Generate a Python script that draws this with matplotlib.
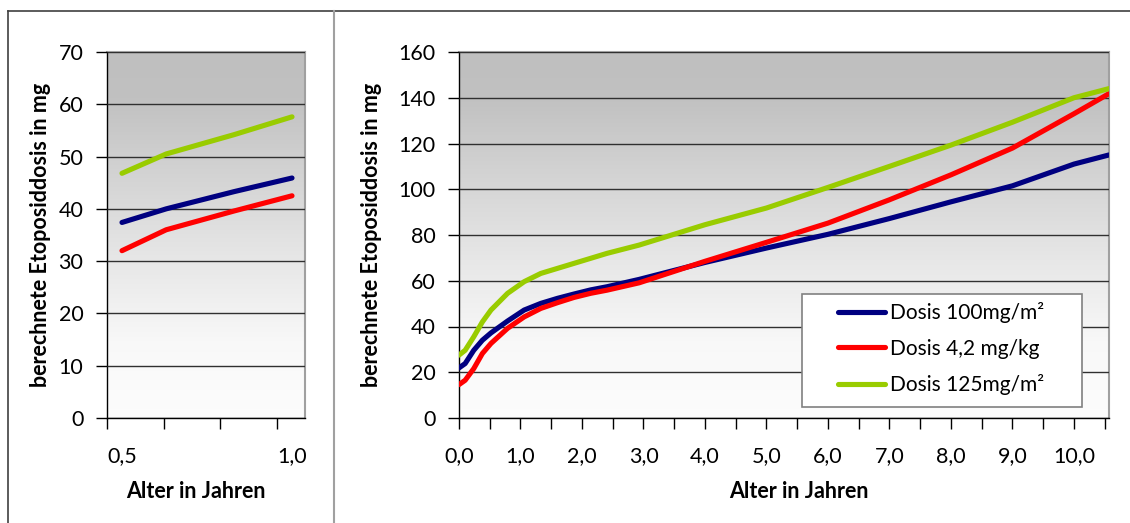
import numpy as np
import matplotlib
matplotlib.use("Agg")
import matplotlib.pyplot as plt
from matplotlib.lines import Line2D
from matplotlib.patches import Rectangle
from matplotlib.colors import LinearSegmentedColormap

plt.rcParams['font.family'] = ['Lato', 'DejaVu Sans']

# ---- data: left panel (infants) ----
ages_left = [0.5, 0.63, 0.83, 1.0]
blue_left = [37.4, 40.0, 43.3, 45.9]
red_left = [32.0, 36.0, 39.6, 42.5]
green_left = [46.8, 50.5, 54.2, 57.6]

# ---- data: right panel ----
ages_right = [0, 0.1, 0.24, 0.38, 0.52, 0.79, 1.06, 1.33, 1.6, 1.87, 2.14, 2.41,
              2.93, 4.0, 5.0, 6.0, 7.0, 8.0, 9.0, 10.0, 10.57]
blue_right = [21.9, 23.8, 29.6, 34.0, 37.2, 42.4, 47.2, 50.1, 52.3, 54.2, 56.0, 57.4,
              60.6, 68.0, 74.3, 80.3, 87.2, 94.5, 101.5, 111.0, 115.0]
red_right = [14.6, 16.5, 21.6, 28.2, 32.6, 39.2, 44.2, 47.9, 50.4, 52.7, 54.5, 55.9,
             59.1, 68.5, 76.8, 85.2, 95.4, 106.3, 118.0, 133.0, 141.8]
green_right = [27.5, 29.6, 35.5, 42.0, 47.2, 54.5, 59.6, 63.2, 65.4, 67.6, 69.8, 72.0,
               75.6, 84.5, 91.8, 100.8, 110.0, 119.3, 129.3, 140.0, 144.0]

series_names = ['Dosis 100mg/m²', 'Dosis 4,2 mg/kg', 'Dosis 125mg/m²']
series_colors = ['#000080', '#ff0000', '#99cc00']

left_xlabels = ['0,5', '1,0']
left_xlabel_pos = [0.5, 1.0]
right_xlabels = ['0,0', '1,0', '2,0', '3,0', '4,0', '5,0', '6,0', '7,0', '8,0', '9,0', '10,0']

W, H = 1130, 523
fig = plt.figure(figsize=(W / 100, H / 100), dpi=100)
fig.patch.set_facecolor('white')

def px_axes(x0, y0, x1, y1):
    return fig.add_axes([x0 / W, 1 - y1 / H, (x1 - x0) / W, (y1 - y0) / H])

AX1 = (107, 52, 305, 418)
AX2 = (459, 52, 1109, 418)
ax1 = px_axes(*AX1)
ax2 = px_axes(*AX2)

cmap = LinearSegmentedColormap.from_list(
    'bg', [(0.0, (0.99, 0.99, 0.99)), (0.2, (0.975, 0.975, 0.975)),
           (0.45, (0.90, 0.90, 0.90)), (0.75, (0.80, 0.80, 0.80)),
           (0.88, (0.755, 0.755, 0.755)), (1.0, (0.75, 0.75, 0.75))])
grad = np.linspace(1, 0, 256).reshape(-1, 1)

FS = 15.5
LFS = 15.5
LW = 3.7

for ax in (ax1, ax2):
    ax.imshow(grad, cmap=cmap, vmin=0, vmax=1, extent=[0, 1, 0, 1],
              transform=ax.transAxes, aspect='auto', zorder=0)
    for s in ('left', 'bottom'):
        ax.spines[s].set_color('#000000')
        ax.spines[s].set_linewidth(1.0)
    for s in ('top', 'right'):
        ax.spines[s].set_color('#a0a0a0')
        ax.spines[s].set_linewidth(1.5)
    ax.tick_params(axis='y', which='both', length=8, width=1, color='#000000',
                   labelsize=FS, pad=9, direction='out')
    ax.tick_params(axis='x', which='both', length=8, width=1, color='#000000',
                   labelsize=FS, direction='out')
    ax.yaxis.grid(True, color='#303030', linewidth=1.0, zorder=1)
    ax.set_axisbelow(False)

def ax_x(px, box):
    return (px - box[0]) / (box[2] - box[0])

def ax_y(py, box):
    return 1 - (py - box[1]) / (box[3] - box[1])

# left panel
for yv, c in zip([blue_left, red_left, green_left], series_colors):
    ax1.plot(ages_left, yv, color=c, lw=LW, solid_capstyle='round', zorder=3)
ax1.set_ylim(0, 70)
ax1.set_yticks(np.arange(0, 71, 10))
ax1.set_xlim(0.4559, 1.0382)
ax1.set_xticks([0.4559, 0.6235, 0.788, 0.956], minor=True)
ax1.set_xticks(left_xlabel_pos)
ax1.set_xticklabels(left_xlabels)
ax1.tick_params(axis='x', which='major', length=0, pad=20)
ax1.set_xlabel('Alter in Jahren', fontsize=LFS, fontweight='bold')
ax1.set_ylabel('berechnete Etoposiddosis in mg', fontsize=LFS, fontweight='bold')
ax1.xaxis.label.set_verticalalignment('center')
ax1.yaxis.label.set_verticalalignment('center')
ax1.xaxis.set_label_coords(ax_x(195.5, AX1), ax_y(492, AX1))
ax1.yaxis.set_label_coords(ax_x(41, AX1), ax_y(235, AX1))

# right panel
lines = []
for yv, c, n in zip([blue_right, red_right, green_right], series_colors, series_names):
    ln, = ax2.plot(ages_right, yv, color=c, lw=LW, solid_capstyle='round', zorder=3, label=n)
    lines.append(ln)
ax2.set_ylim(0, 160)
ax2.set_yticks(np.arange(0, 161, 20))
ax2.set_xlim(0, 10.57)
ax2.set_xticks(np.arange(0, 11, 1.0))
ax2.set_xticklabels(right_xlabels)
ax2.set_xticks(np.arange(0.5, 10.6, 1.0), minor=True)
ax2.tick_params(axis='x', which='major', pad=12)
ax2.set_xlabel('Alter in Jahren', fontsize=LFS, fontweight='bold')
ax2.set_ylabel('berechnete Etoposiddosis in mg', fontsize=LFS, fontweight='bold')
ax2.xaxis.label.set_verticalalignment('center')
ax2.yaxis.label.set_verticalalignment('center')
ax2.xaxis.set_label_coords(ax_x(799, AX2), ax_y(492, AX2))
ax2.yaxis.set_label_coords(ax_x(371, AX2), ax_y(235, AX2))

# legend box
ax2.add_patch(Rectangle((ax_x(801.7, AX2), ax_y(406.7, AX2)),
                        (1082.3 - 801.7) / 650, (406.7 - 294) / 366,
                        transform=ax2.transAxes, facecolor='white',
                        edgecolor='#808080', lw=1.2, zorder=4))
leg = ax2.legend(handles=lines, loc='upper left',
                 bbox_to_anchor=(ax_x(838, AX2), ax_y(302, AX2)),
                 fontsize=15, frameon=False,
                 handlelength=2.25, handletextpad=0.25, labelspacing=0.75,
                 borderpad=0, borderaxespad=0)
leg.set_zorder(5)

# outer frame lines
def fline(xs, ys, color, lw):
    fig.add_artist(Line2D([x / W for x in xs], [1 - y / H for y in ys],
                          color=color, lw=lw, transform=fig.transFigure))

fline([8, W], [11, 11], '#404040', 1.2)
fline([8, 8], [11, H], '#404040', 1.2)
fline([333.5, 333.5], [11, H], '#a0a0a0', 1.5)

fig.savefig('out.png', dpi=100)
